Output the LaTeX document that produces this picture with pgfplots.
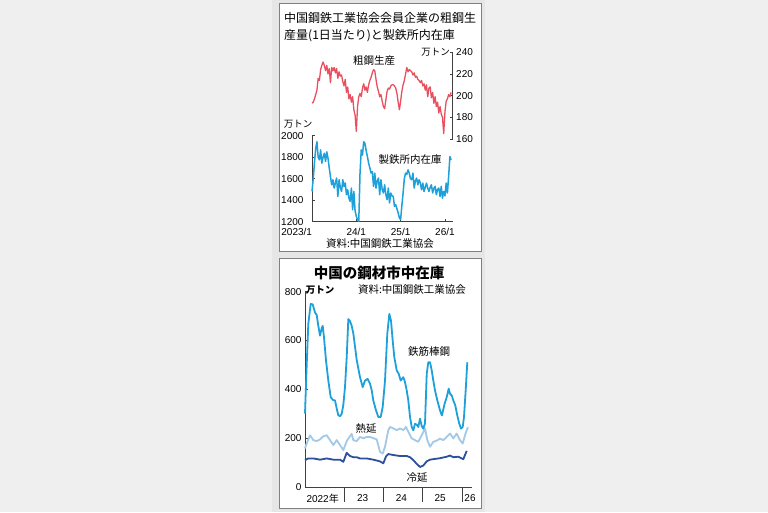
\documentclass[border=0pt]{standalone}
\usepackage{fontspec}
\setmainfont{Liberation Sans}
\newfontfamily\jp{Noto Sans CJK JP}
\usepackage{pgfplots}
\pgfplotsset{compat=1.18}

\definecolor{bgout}{HTML}{EFEFEF}
\definecolor{bgstrip}{HTML}{E6E6E6}
\definecolor{frame}{HTML}{808080}
\definecolor{axisc}{HTML}{404040}
\definecolor{crude}{HTML}{E8505F}
\definecolor{skyb}{HTML}{1EA0DA}
\definecolor{hotb}{HTML}{A3C9E8}
\definecolor{coldb}{HTML}{2C4F9E}

\newcommand\jpf[1]{\fontsize{#1}{#1}\selectfont\jp}

\pgfplotsset{
  kiji/.style={
    scale only axis, anchor=south west,
    axis line style={draw=axisc, line width=0.6pt},
    tick style={draw=axisc, line width=0.6pt},
    major tick length=3pt,
    tick align=inside,
    ticklabel style={font=\fontsize{10}{12}\selectfont},
    /pgf/number format/assume math mode=true,
    /pgf/number format/1000 sep={},
    clip=false,
  }
}

\begin{document}
\begin{tikzpicture}[x=1pt,y=1pt]
\fill[bgout] (0,0) rectangle (768,512);
\fill[bgstrip] (272,0) rectangle (485,512);
\draw[frame, fill=white, line width=0.8pt] (279.3,509) rectangle (481,260.3);
\draw[frame, fill=white, line width=0.8pt] (279.3,253.7) rectangle (481,4);

% crude steel output, right axis
\begin{axis}[kiji, at={(312pt,373pt)}, width=140.7pt, height=86.7pt,
  xmin=0, xmax=114.3, ymin=160, ymax=240,
  axis x line=none, axis y line*=right,
  ytick={160,180,...,240}]
\addplot[crude, line width=1.3pt, line join=round] table[x expr=\coordindex, y index=0, header=false, row sep=\\]{
193\\194\\197\\201\\205\\216\\214\\224\\228\\231\\
228\\223\\228\\220\\225\\212\\226\\223\\226\\221\\
225\\216\\222\\218\\219\\213\\209\\215\\203\\208\\
197\\201\\194\\199\\187\\182\\167\\190\\199\\202\\
199\\207\\211\\205\\208\\203\\210\\214\\217\\221\\
224\\223\\215\\208\\204\\199\\201\\195\\190\\188\\
196\\204\\207\\206\\209\\210\\210\\209\\207\\202\\
194\\187\\195\\204\\210\\214\\220\\226\\222\\224\\
223\\222\\219\\221\\217\\218\\215\\214\\212\\214\\
209\\211\\205\\210\\199\\207\\208\\198\\203\\193\\
199\\190\\194\\184\\190\\183\\180\\165\\185\\195\\
197\\201\\199\\203\\
};
\end{axis}

% mill inventory, left axis
\begin{axis}[kiji, at={(312pt,290.3pt)}, width=140.7pt, height=86pt,
  xmin=0, xmax=114.3, ymin=1200, ymax=2000,
  axis x line*=bottom, axis y line*=left,
  xtick={0,36,72,108}, xticklabels={\llap{2023/1},24/1,25/1,26/1},
  ytick={1200,1400,...,2000},
  yticklabel style={xshift=-5pt},
  xticklabel style={yshift=-3pt}]
\addplot[skyb, line width=1.5pt, line join=round] table[x expr=\coordindex, y index=0, header=false, row sep=\\]{
1481\\1600\\1750\\1880\\1944\\1800\\1775\\1868\\1744\\1800\\
1837\\1760\\1850\\1790\\1700\\1620\\1543\\1590\\1513\\1560\\
1606\\1435\\1590\\1520\\1481\\1590\\1528\\1560\\1451\\1497\\
1420\\1389\\1513\\1312\\1481\\1300\\1250\\1220\\1204\\1650\\
1868\\1820\\1944\\1929\\1860\\1806\\1744\\1700\\1652\\1667\\
1528\\1652\\1513\\1580\\1606\\1451\\1590\\1500\\1467\\1543\\
1450\\1405\\1513\\1374\\1467\\1440\\1435\\1343\\1358\\1320\\
1282\\1235\\1220\\1350\\1467\\1600\\1652\\1640\\1682\\1652\\
1600\\1590\\1652\\1513\\1580\\1606\\1543\\1590\\1560\\1497\\
1559\\1481\\1520\\1559\\1513\\1481\\1520\\1543\\1467\\1510\\
1528\\1451\\1500\\1513\\1435\\1528\\1420\\1481\\1440\\1559\\
1467\\1620\\1806\\1775\\
};
\end{axis}

% market inventories
\begin{axis}[kiji, at={(305pt,25pt)}, width=167pt, height=195.3pt,
  xmin=2022, xmax=2026.26, ymin=0, ymax=800,
  axis x line*=bottom, axis y line*=left,
  xtick=\empty, ytick={0,200,...,800},
  extra x ticks={2022.45,2023.47,2024.46,2025.45,2026.21},
  extra x tick labels={2022{\jp 年},23,24,25,26},
  extra x tick style={major tick length=0pt, xticklabel style={yshift=-4pt}}]
\addplot[hotb, line width=1.8pt, line join=round] coordinates {
(2022.000,158)(2022.043,178)(2022.128,212)(2022.212,192)(2022.298,188)(2022.383,195)
(2022.467,208)(2022.554,212)(2022.638,192)(2022.722,172)(2022.809,192)(2022.893,172)
(2022.977,151)(2023.064,188)(2023.148,208)(2023.191,218)(2023.232,192)(2023.319,188)
(2023.403,205)(2023.487,200)(2023.574,205)(2023.658,205)(2023.742,200)(2023.829,195)
(2023.913,144)(2023.982,137)(2024.041,165)(2024.125,233)(2024.168,246)(2024.253,240)
(2024.339,233)(2024.423,240)(2024.508,233)(2024.577,246)(2024.635,226)(2024.722,199)
(2024.806,192)(2024.890,185)(2024.977,212)(2025.061,240)(2025.120,192)(2025.189,165)
(2025.273,185)(2025.360,190)(2025.444,198)(2025.528,192)(2025.615,205)(2025.699,219)
(2025.783,199)(2025.870,219)(2025.954,192)(2026.023,178)(2026.082,212)(2026.125,233)
(2026.158,245)};
\addplot[coldb, line width=1.8pt, line join=round] coordinates {
(2022.000,110)(2022.084,117)(2022.212,117)(2022.383,112)(2022.554,117)(2022.722,112)
(2022.893,112)(2022.977,103)(2023.064,140)(2023.148,127)(2023.232,122)(2023.319,122)
(2023.403,117)(2023.574,117)(2023.742,112)(2023.913,105)(2023.998,97)(2024.066,125)
(2024.125,135)(2024.253,131)(2024.423,127)(2024.594,127)(2024.679,122)(2024.763,110)
(2024.849,95)(2024.934,82)(2025.018,88)(2025.105,105)(2025.189,112)(2025.273,114)
(2025.444,118)(2025.615,124)(2025.699,129)(2025.783,122)(2025.911,124)(2026.038,114)
(2026.125,148)};
\addplot[skyb, line width=1.8pt, line join=round] coordinates {
(2022.000,301)(2022.043,500)(2022.084,668)(2022.145,750)(2022.196,748)(2022.255,715)
(2022.298,705)(2022.339,661)(2022.383,620)(2022.426,650)(2022.452,660)(2022.485,612)
(2022.536,518)(2022.594,437)(2022.656,368)(2022.722,355)(2022.765,355)(2022.809,321)
(2022.849,294)(2022.893,290)(2022.936,300)(2022.977,335)(2023.020,409)(2023.064,532)
(2023.105,688)(2023.148,680)(2023.191,660)(2023.232,630)(2023.276,575)(2023.319,520)
(2023.403,450)(2023.472,409)(2023.531,436)(2023.599,443)(2023.658,423)(2023.702,396)
(2023.742,355)(2023.811,314)(2023.870,287)(2023.931,287)(2023.982,328)(2024.041,436)
(2024.099,627)(2024.151,709)(2024.194,681)(2024.237,600)(2024.278,532)(2024.339,478)
(2024.390,464)(2024.441,436)(2024.508,450)(2024.551,430)(2024.594,396)(2024.635,355)
(2024.679,287)(2024.722,246)(2024.763,232)(2024.806,259)(2024.849,255)(2024.890,246)
(2024.934,280)(2024.977,250)(2025.018,239)(2025.061,260)(2025.105,464)(2025.145,511)
(2025.189,511)(2025.232,478)(2025.273,436)(2025.316,396)(2025.375,355)(2025.444,314)
(2025.492,293)(2025.561,341)(2025.615,368)(2025.666,403)(2025.699,382)(2025.742,375)
(2025.783,355)(2025.834,334)(2025.885,293)(2025.936,259)(2025.980,239)(2026.023,246)
(2026.056,287)(2026.099,396)(2026.140,511)};
\pgfplotsinvokeforeach{2023,2024,2025,2026}{
  \draw[axisc, line width=0.6pt] (axis cs:#1,0) -- ++(0pt,-15pt);}
\end{axis}

% texts, upper panel
\begin{scope}[every node/.style={inner sep=0pt}]
\node[anchor=west] at (284,494) {\jpf{12}中国鋼鉄工業協会会員企業の粗鋼生};
\node[anchor=west] at (284,476) {\jpf{12}産量(1日当たり)と製鉄所内在庫};
\node[anchor=east] at (450,460) {\jpf{9.5}万トン};
\node at (374,451) {\jpf{10.5}粗鋼生産};
\node at (298,388) {\jpf{9.5}万トン};
\node at (410,352) {\jpf{10.5}製鉄所内在庫};
\node at (380,268.7) {\jpf{10.5}資料:中国鋼鉄工業協会};
% lower panel
\node at (379,239) {\jpf{14.5}\bfseries 中国の鋼材市中在庫};
\node at (412,222) {\jpf{10.5}資料:中国鋼鉄工業協会};
\node at (320,222) {\jpf{9.5}\bfseries 万トン};
\node at (429,160) {\jpf{10.5}鉄筋棒鋼};
\node at (366,83) {\jpf{10.5}熱延};
\node at (417,34) {\jpf{10.5}冷延};
\end{scope}
\pgfresetboundingbox
\useasboundingbox (0,0) rectangle (768,512);
\end{tikzpicture}
\end{document}
